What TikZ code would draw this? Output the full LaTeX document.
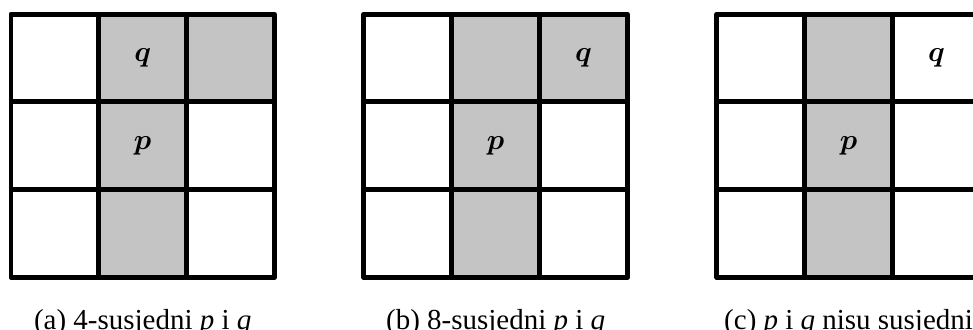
\documentclass[tikz,border=0pt]{standalone}
\usepackage{amsmath}
\usepackage{fontspec}
\setmainfont{Liberation Serif}
\definecolor{cellgray}{gray}{0.77}

\begin{document}
\begin{tikzpicture}[
			x=30.3pt, y=30.3pt,
			gridline/.style={line width=1.7pt, line join=round},
			shaded/.style={fill=cellgray},
			lbl/.style={inner sep=0pt},
			subcap/.style={anchor=base, inner sep=0pt}
		]
		\useasboundingbox (-0.125,-0.59) rectangle (10.957,3.16);
		\clip (-0.125,-0.59) rectangle (10.957,3.16);

		% (a)
		\begin{scope}
			\fill[shaded] (1,0) rectangle (2,3) (2,2) rectangle (3,3);
			\draw[gridline] (0,0) rectangle (3,3);
			\draw[gridline] (1,0) -- (1,3) (2,0) -- (2,3) (0,1) -- (3,1) (0,2) -- (3,2);
			\node[lbl] (qa) at (1.5,2.5) {$\boldsymbol{q}$};
			\node[lbl] (pa) at (1.5,1.5) {$\boldsymbol{p}$};
			\node[subcap] (capa) at (1.5,-0.59) {(a) 4-susjedni \textit{p} i \textit{q}};
		\end{scope}

		% (b)
		\begin{scope}[xshift=4.02*30.3pt]
			\fill[shaded] (1,0) rectangle (2,3) (2,2) rectangle (3,3);
			\draw[gridline] (0,0) rectangle (3,3);
			\draw[gridline] (1,0) -- (1,3) (2,0) -- (2,3) (0,1) -- (3,1) (0,2) -- (3,2);
			\node[lbl] (qb) at (2.5,2.5) {$\boldsymbol{q}$};
			\node[lbl] (pb) at (1.5,1.5) {$\boldsymbol{p}$};
			\node[subcap] (capb) at (1.5,-0.59) {(b) 8-susjedni \textit{p} i \textit{q}};
		\end{scope}

		% (c)
		\begin{scope}[xshift=8.04*30.3pt]
			\fill[shaded] (1,0) rectangle (2,3);
			\draw[gridline] (0,0) rectangle (3,3);
			\draw[gridline] (1,0) -- (1,3) (2,0) -- (2,3) (0,1) -- (3,1) (0,2) -- (3,2);
			\node[lbl] (qc) at (2.5,2.5) {$\boldsymbol{q}$};
			\node[lbl] (pc) at (1.5,1.5) {$\boldsymbol{p}$};
			\node[subcap] (capc) at (1.5,-0.59) {(c) \textit{p} i \textit{q} nisu susjedni};
		\end{scope}
	\end{tikzpicture}
\end{document}
